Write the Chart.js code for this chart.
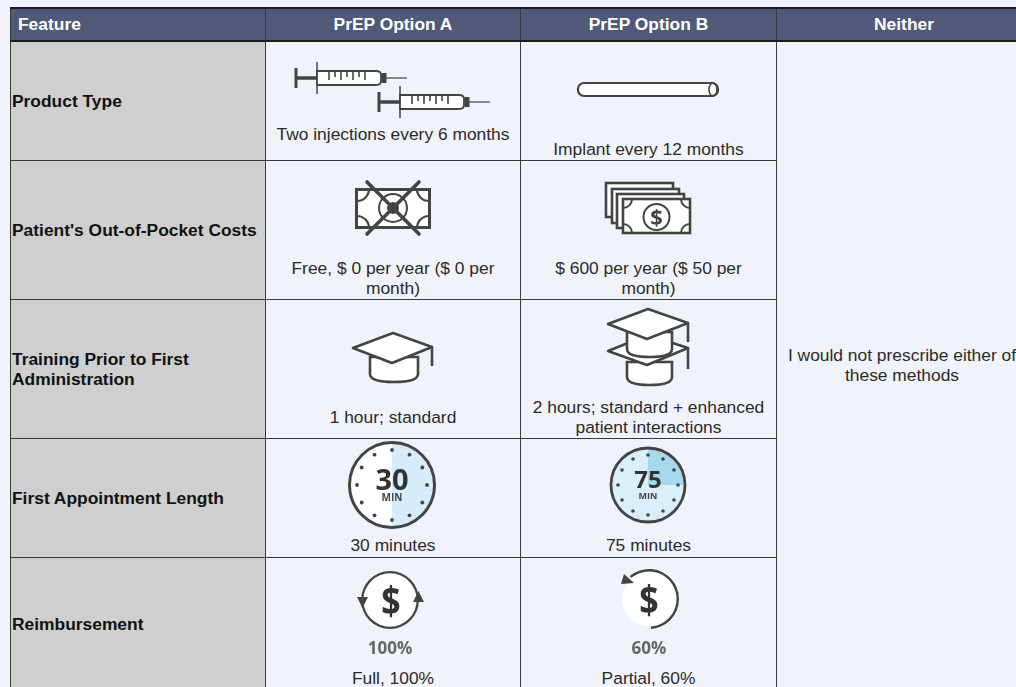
<!DOCTYPE html>
<html>
<head>
<meta charset="utf-8">
<script src="https://cdn.jsdelivr.net/npm/chart.js@4"></script>
<style>
html, body { margin: 0; width: 1016px; height: 687px; overflow: hidden; background: #f0f3f9; }
body { position: relative; font-family: "Liberation Sans", Arial, sans-serif; font-size: 17.4px; line-height: 20px; color: #2b2b2b; }
table { position: absolute; left: 10px; top: 7px; width: 1021px; table-layout: fixed; border-collapse: collapse; }
th, td { border: 1px solid #3a3a3a; padding: 0; }
th { background: #505a78; color: #fff; height: 29px; padding-bottom: 2px; border-top: 2px solid #1c1c1c; border-bottom: 2px solid #1c1c1c; text-align: center; }
th:first-child { text-align: left; padding-left: 7px; }
tr.row td { height: 138px; text-align: center; vertical-align: top; }
tr.row td.feature { background: #cfcfcf; font-weight: bold; text-align: left; vertical-align: middle; padding: 0 0 0 1px; color: #111; }
td p { margin: 0; padding: 0 10px; }
tr.row td.neither { text-align: center; vertical-align: top; padding-top: 303px; height: auto; }
tr.row td.neither p { padding: 0 10px 0 6px; }
#r0 td { height: 118px; }
#r3 td { height: 118px; }
#r4 td { height: 131px; }
#r0 .a p { padding-top: 82px; }
#r0 .b p { padding-top: 97px; }
#r1 .a p, #r1 .b p { padding-top: 97px; }
#r2 .a p { padding-top: 107px; }
#r2 .b p { padding-top: 97px; }
#r3 .a p, #r3 .b p { padding-top: 96px; }
#r4 .a p, #r4 .b p { padding-top: 110px; }
#icons { position: absolute; left: 0; top: 0; }
canvas { position: absolute; }
#clockA { left: 349px; top: 442px; }
#clockB { left: 611px; top: 448px; }
#reimbA { left: 361px; top: 571px; }
#reimbB { left: 619px; top: 569px; }
.over { position: absolute; font-family: "Open Sans", sans-serif; font-weight: bold; text-align: center; transform: translate(-50%, -50%); white-space: nowrap; line-height: 0.75; }
.dollar { transform: translate(-50%, -50%) scaleX(0.85); }
</style>
</head>
<body>
<table id="grid"></table>
<canvas id="clockA" width="86" height="86"></canvas>
<canvas id="clockB" width="74" height="74"></canvas>
<canvas id="reimbA" width="58" height="58"></canvas>
<canvas id="reimbB" width="60" height="60"></canvas>
<svg id="icons" width="1016" height="687" fill="none" stroke="#444" stroke-width="2">
  <defs>
    <g id="syringe">
      <path d="M296 68V88" stroke-width="3"/>
      <path d="M296 78H317" stroke-width="3.5"/>
      <path d="M317 62V94" stroke-width="1.5"/>
      <path d="M317 71H376Q381 71 381 75V81Q381 85 376 85H317Z" fill="#fff" stroke-width="1.8"/>
      <path d="M329 71V80M335 71V77M341 71V80M347 71V77M353 71V80M359 71V77M365 71V80" stroke-width="1.6"/>
      <path d="M384 73V83" stroke-width="5"/>
      <path d="M386 78H407" stroke-width="1.2"/>
    </g>
    <g id="bill">
      <rect x="0" y="0" width="67" height="34" fill="#fff" stroke-width="2.6"/>
    </g>
  </defs>
  <use href="#syringe"/>
  <use href="#syringe" x="83" y="24"/>

  <!-- implant -->
  <rect x="578" y="83" width="140" height="13" rx="6" fill="#fff" stroke-width="2.2"/>
  <ellipse cx="713" cy="89.500" rx="4" ry="6.500" stroke-width="1.6"/>

  <!-- crossed out money -->
  <rect x="356.500" y="189.500" width="73" height="38" fill="#fff" stroke-width="3"/>
  <path d="M357 201A12 12 0 0 0 369 189M417 189A12 12 0 0 0 429 201M357 216A12 12 0 0 1 369 228M417 228A12 12 0 0 1 429 216" stroke-width="2.2"/>
  <circle cx="393" cy="208" r="14"/>
  <circle cx="393" cy="208" r="5" fill="#444"/>
  <path d="M367 182L419 234M419 182L367 234" stroke-width="3.6" stroke-linecap="round"/>

  <!-- stack of money -->
  <use href="#bill" x="606" y="183"/>
  <use href="#bill" x="612" y="189"/>
  <use href="#bill" x="617" y="194"/>
  <use href="#bill" x="623" y="199"/>
  <path d="M623 208A9 9 0 0 0 632 199M681 199A9 9 0 0 0 690 208M623 224A9 9 0 0 1 632 233M681 233A9 9 0 0 1 690 224" stroke-width="2"/>
  <circle cx="656.500" cy="217" r="13"/>
  <text x="656.500" y="225" text-anchor="middle" font-family="Open Sans" font-weight="bold" font-size="22" fill="#444" stroke="none">$</text>

  <!-- one cap -->
  <path d="M370 357V374Q370 382 394 382Q418 382 418 374V357Z" fill="#fff" stroke-width="2.6"/>
  <path d="M353 348L393 333L432 347L392 363Z" fill="#fff" stroke-width="2.6" stroke-linejoin="round"/>
  <path d="M432 347V366" stroke-width="2.6"/>

  <!-- two caps -->
  <path d="M627 362V377Q627 385 650 385Q672 385 672 377V362Z" fill="#fff" stroke-width="2.6"/>
  <path d="M608 351L648 335L688 348L647 365Z" fill="#fff" stroke-width="2.6" stroke-linejoin="round"/>
  <path d="M688 348V369" stroke-width="2.6"/>
  <path d="M627 332V349Q627 357 650 357Q672 357 672 349V332Z" fill="#fff" stroke-width="2.6"/>
  <path d="M608 324L648 309L688 323L647 339Z" fill="#fff" stroke-width="2.6" stroke-linejoin="round"/>
  <path d="M688 323V342" stroke-width="2.6"/>

  <!-- clock rims, dots get added below -->
  <circle cx="392" cy="485" r="42.500" stroke-width="3"/>
  <circle cx="648" cy="485" r="37" stroke-width="2.800"/>
  <g id="dots" fill="#444" stroke="none"></g>

  <!-- reimbursement arrow heads -->
  <path d="M357 597H368L362.500 608Z M413 602H424L418.500 591Z" fill="#444" stroke="none"/>
  <path d="M624 574L634 583L621 584Z" fill="#444" stroke="none"/>
</svg>
<div class="over dollar" style="left:391px;top:600px;font-size:40px;color:#333">$</div>
<div class="over dollar" style="left:649px;top:599px;font-size:40px;color:#333">$</div>
<div class="over" style="left:390px;top:648px;font-size:17px;color:#666">100%</div>
<div class="over" style="left:649px;top:648px;font-size:17px;color:#666">60%</div>

<script>
const headers = ["Feature", "PrEP Option A", "PrEP Option B", "Neither"]
const features = ["Product Type", "Patient's Out-of-Pocket Costs", "Training Prior to First Administration", "First Appointment Length", "Reimbursement"]
const optionA = ["Two injections every 6 months", "Free, $ 0 per year ($ 0 per month)", "1 hour; standard", "30 minutes", "Full, 100%"]
const optionB = ["Implant every 12 months", "$ 600 per year ($ 50 per month)", "2 hours; standard + enhanced patient interactions", "75 minutes", "Partial, 60%"]
const neither = "I would not prescribe either of these methods"

// minutes shaded on each clock face, then the rest of the hour
const clockAMinutes = [30, 30]
const clockBMinutes = [15, 45]
// share of the ring drawn around each dollar sign
const reimbursementA = [100, 0]
const reimbursementB = [60, 40]

const grid = document.getElementById("grid")
let html = "<colgroup><col style='width:255px'><col style='width:255px'><col style='width:256px'><col style='width:255px'></colgroup>"
html += "<tr>" + headers.map((h) => `<th>${h}</th>`).join("") + "</tr>"
features.forEach((feature, i) => {
  html += `<tr class="row" id="r${i}"><td class="feature">${feature}</td>`
  html += `<td class="a"><p>${optionA[i]}</p></td><td class="b"><p>${optionB[i]}</p></td>`
  if (i === 0) {
    html += `<td class="neither" rowspan="${features.length}"><p>${neither}</p></td>`
  }
  html += "</tr>"
})
grid.innerHTML = html

// hour dots on both clocks
const dots = document.getElementById("dots")
function addDots(cx, cy, r, size) {
  for (let h = 0; h < 12; h++) {
    const a = h * Math.PI / 6
    const dot = document.createElementNS("http://www.w3.org/2000/svg", "circle")
    dot.setAttribute("cx", cx + r * Math.sin(a))
    dot.setAttribute("cy", cy - r * Math.cos(a))
    dot.setAttribute("r", size)
    dots.appendChild(dot)
  }
}
addDots(392, 485, 35, 1.9)
addDots(648, 485, 30, 1.8)

// writes the minutes in the middle of a clock face
const clockText = {
  id: "clockText",
  afterDraw(chart, args, opts) {
    if (!opts.label) return
    const ctx = chart.ctx
    const x = chart.width / 2
    ctx.save()
    ctx.textAlign = "center"
    ctx.fillStyle = "#333"
    ctx.font = `bold ${opts.size}px "Open Sans"`
    ctx.fillText(opts.label, x, opts.numberY)
    ctx.fillStyle = "#444"
    ctx.font = `bold ${opts.minSize}px "Open Sans"`
    ctx.fillText("MIN", x, opts.numberY + 11)
    ctx.restore()
  }
}

function makeChart(id, values, colors, cutout, rotation, text) {
  return new Chart(document.getElementById(id), {
    type: "doughnut",
    data: {
      datasets: [{ data: values, backgroundColor: colors, borderWidth: 0 }]
    },
    options: {
      responsive: false,
      animation: false,
      cutout,
      rotation,
      plugins: { legend: { display: false }, tooltip: { enabled: false }, clockText: text || {} }
    },
    plugins: [clockText]
  })
}

makeChart("clockA", clockAMinutes, ["#d6ecfb", "#ffffff"], 0, 0, { label: "30", size: 29, minSize: 10, numberY: 48 })
makeChart("clockB", clockBMinutes, ["#a6d9ec", "#d9f0fc"], 0, 0, { label: "75", size: 24, minSize: 9, numberY: 40 })
makeChart("reimbA", reimbursementA, ["#444444", "rgba(0,0,0,0)"], "92%", 0)
makeChart("reimbB", reimbursementB, ["#444444", "rgba(0,0,0,0)"], "92%", -40)

// white disc behind the dollar signs
const discs = [[361, 571, 58], [622, 572, 54]]
discs.forEach(([left, top, size]) => {
  const disc = document.createElement("div")
  disc.style.cssText = `position:absolute;left:${left}px;top:${top}px;width:${size}px;height:${size}px;border-radius:50%;background:#fff`
  document.body.insertBefore(disc, document.getElementById("clockA"))
})
</script>
</body>
</html>
